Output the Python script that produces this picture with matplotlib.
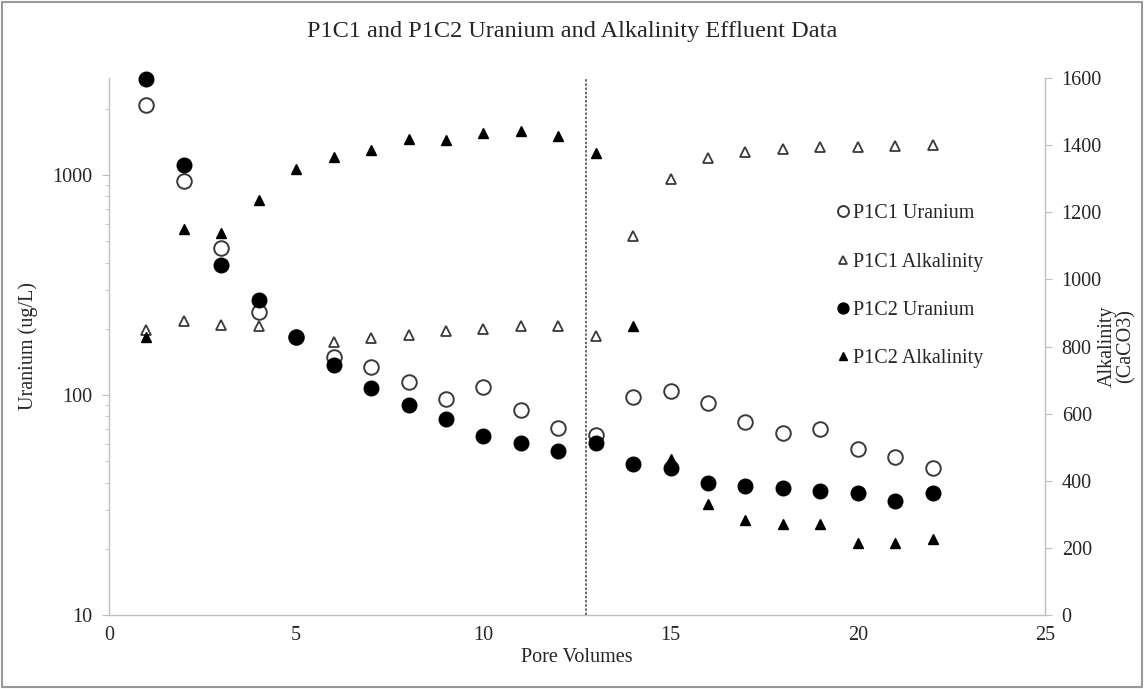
import matplotlib
matplotlib.use("Agg")
import matplotlib.pyplot as plt
from matplotlib.patches import Rectangle
from matplotlib.ticker import LogLocator, NullFormatter, FixedLocator

pore_volumes = list(range(1, 23))
p1c1_uranium = [2080, 939, 466, 238, 183, 149, 134, 115, 96, 109, 85.4, 70.8,
                65.8, 98, 104, 92, 75.4, 67.4, 70, 56.8, 52.5, 46.6]
p1c2_uranium = [2730, 1110, 390, 270, 184, 137, 107.6, 90, 77.6, 65.3, 60.3, 55.6,
                60.3, 48.6, 46.7, 39.9, 38.7, 37.7, 36.7, 35.7, 32.9, 35.7]
p1c1_alkalinity = [848, 875, 863, 860, 827, 813, 825, 833, 845, 851, 861, 861,
                   831, 1128, 1300, 1362, 1379, 1389, 1395, 1393, 1396, 1400]
p1c2_alkalinity = [829, 1151, 1139, 1237, 1330, 1366, 1386, 1417, 1414, 1437, 1443, 1426,
                   1376, 861, 464, 330, 283, 270, 270, 214, 214, 226]
divider_x = 12.75
x_ticks = [0, 5, 10, 15, 20, 25]
alk_ticks = [0, 200, 400, 600, 800, 1000, 1200, 1400, 1600]

plt.rcParams['font.family'] = ['Liberation Serif', 'DejaVu Serif']
grey = '#bfbfbf'
txt = '#262626'
fs = 14.5

fig = plt.figure(figsize=(11.44, 6.89), dpi=100)
ax = fig.add_axes([109/1144, 1-615/689, (1045-109)/1144, (615-78)/689])
ax2 = ax.twinx()

# left axis - uranium
l1, = ax.plot(pore_volumes, p1c1_uranium, 'o', ms=10.5, mfc='white', mec='#3a3a3a', mew=1.4,
              ls='none', label='P1C1 Uranium', zorder=3, clip_on=False)
ax.set_yscale('log')
ax.set_ylim(10, 2760)
ax.set_xlim(0, 25)
ax.set_xticks(x_ticks)
ax.yaxis.set_major_locator(FixedLocator([10, 100, 1000]))
ax.set_yticklabels(['10', '100', '1000'])
ax.yaxis.set_minor_locator(LogLocator(base=10, subs=range(2, 10)))
ax.yaxis.set_minor_formatter(NullFormatter())

# right axis - alkalinity
l2, = ax2.plot(pore_volumes, p1c1_alkalinity, '^', ms=7, mfc='white', mec='#3a3a3a', mew=1.3,
               ls='none', label='P1C1 Alkalinity', zorder=3, clip_on=False)
l3, = ax2.plot(pore_volumes, p1c2_uranium, 'o', ms=10.5, mfc='black', mec='black',
               ls='none', label='P1C2 Uranium', zorder=4, transform=ax.transData, clip_on=False)
l4, = ax2.plot(pore_volumes, p1c2_alkalinity, '^', ms=7, mfc='black', mec='black',
               ls='none', label='P1C2 Alkalinity', zorder=4, clip_on=False)
ax2.set_ylim(0, 1600)
ax2.set_yticks(alk_ticks)
ax2.set_xlim(0, 25)

ax2.axvline(divider_x, color='#555555', lw=1.2, ls=(0, (1.5, 1)), zorder=2)

for a in (ax, ax2):
    a.spines['top'].set_visible(False)
    for s in ('left', 'right', 'bottom'):
        a.spines[s].set_color(grey)
        a.spines[s].set_linewidth(1.0)
    a.tick_params(axis='both', which='both', color=grey, labelcolor=txt, labelsize=fs)
ax.spines['right'].set_visible(False)
ax2.spines['left'].set_visible(False)
ax2.spines['bottom'].set_visible(False)
ax.tick_params(axis='x', length=0, pad=8)
ax.tick_params(axis='y', which='major', length=5, pad=7)
ax.tick_params(axis='y', which='minor', length=3)
ax2.tick_params(axis='y', length=5, pad=7)

ax.set_xlabel('Pore Volumes', fontsize=fs, color=txt, labelpad=2)
ax.set_ylabel('Uranium (ug/L)', fontsize=fs, color=txt, labelpad=10)
ax2.set_ylabel('Alkalinity\n(CaCO3)', fontsize=fs, color=txt, labelpad=-3, linespacing=0.95)

fig.suptitle('P1C1 and P1C2 Uranium and Alkalinity Effluent Data', y=1-32/689,
             fontsize=17.5, color=txt, va='center')

leg = ax2.legend(handles=[l1, l2, l3, l4], loc='upper left', bbox_to_anchor=(0.7695, 0.78),
                 frameon=False, fontsize=fs, markerscale=0.75, handlelength=0.55,
                 handletextpad=0.25, labelspacing=1.45, borderaxespad=0)
for t in leg.get_texts():
    t.set_color(txt)

fig.patches.append(Rectangle((0.002, 0.003), 0.996, 0.994, transform=fig.transFigure,
                             fill=False, edgecolor='#999999', lw=1.5))

fig.savefig('out.png', dpi=100)
